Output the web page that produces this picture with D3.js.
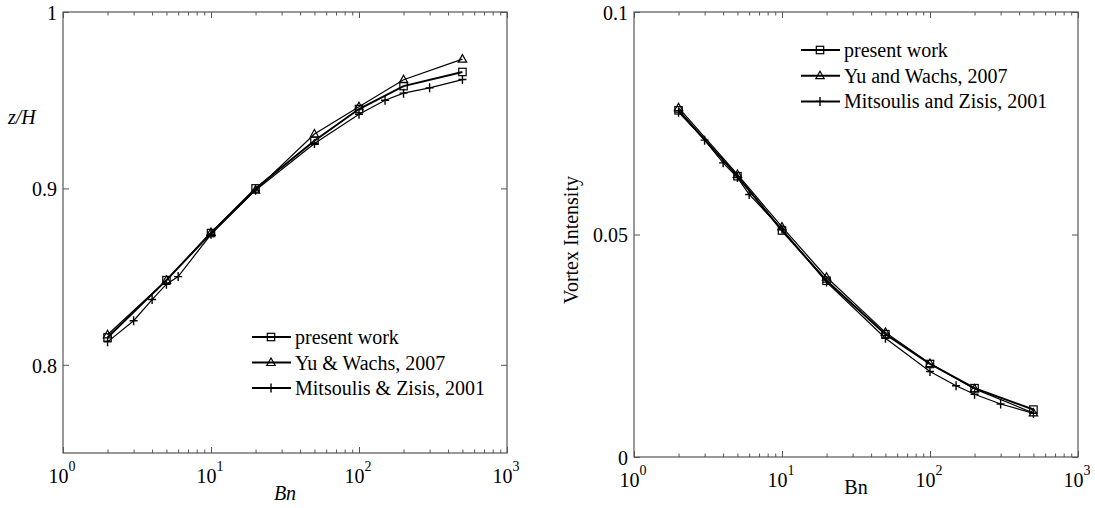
<!DOCTYPE html>
<html>
<head>
<meta charset="utf-8">
<script src="https://cdn.jsdelivr.net/npm/d3@7"></script>
<style>
body { margin: 0; background: #fff; }
</style>
</head>
<body>
<div id="divplot"></div>
<script>
// Bn sample points
const bnMain = [2, 5, 10, 20, 50, 100, 200, 500]
const bnMitsoulis = [2, 3, 4, 5, 6, 10, 20, 50, 100, 150, 200, 300, 500]

// left panel: z/H
const zhPresent = [0.8155, 0.848, 0.8747, 0.900, 0.927, 0.945, 0.958, 0.966]
const zhYu = [0.817, 0.848, 0.875, 0.899, 0.9308, 0.9463, 0.9616, 0.9733]
const zhMitsoulis = [0.813, 0.825, 0.837, 0.8457, 0.850, 0.874, 0.899, 0.9255, 0.942, 0.950, 0.954, 0.957, 0.9617]

// right panel: vortex intensity
const viPresent = [0.0779, 0.0631, 0.0509, 0.0396, 0.0276, 0.0209, 0.01547, 0.01066]
const viYu = [0.0785, 0.0635, 0.0517, 0.0404, 0.028, 0.021, 0.0153, 0.0099]
const viMitsoulis = [0.0775, 0.0712, 0.0661, 0.0628, 0.059, 0.0512, 0.0393, 0.0267, 0.0192, 0.016, 0.0141, 0.0119, 0.0098]

const xDecades = [1, 10, 100, 1000]
const zhTicks = [0.8, 0.9, 1]
const viTicks = [0, 0.05, 0.1]

const legendLeft = ['present work', 'Yu & Wachs, 2007', 'Mitsoulis & Zisis, 2001']
const legendRight = ['present work', 'Yu and Wachs, 2007', 'Mitsoulis and Zisis, 2001']

const FONT = '"Liberation Serif", "Times New Roman", serif'
const AXIS = '#555'

const svg = d3.select('#divplot')
	.append('svg')
	.attr('width', 1095)
	.attr('height', 508)
	.style('font-family', FONT)

const minorTicks = []
for (let d = 1; d < 1000; d *= 10) {
	for (let k = 2; k <= 9; k++) minorTicks.push(d * k)
}

const marker = (g, type, x, y) => {
	if (type == 'square') {
		g.append('rect').attr('x', x - 3.7).attr('y', y - 3.7).attr('width', 7.4).attr('height', 7.4)
			.attr('fill', 'none').attr('stroke', '#000').attr('stroke-width', 1.2)
	} else if (type == 'triangle') {
		g.append('path').attr('d', `M${x},${y - 4.5}L${x + 4.2},${y + 3}L${x - 4.2},${y + 3}Z`)
			.attr('fill', 'none').attr('stroke', '#000').attr('stroke-width', 1.2)
	} else {
		g.append('path').attr('d', `M${x - 4},${y}H${x + 4}M${x},${y - 4.5}V${y + 4.5}`)
			.attr('stroke', '#000').attr('stroke-width', 1.4)
	}
}

const txt = (g) => g.append('text').style('font-family', FONT).attr('fill', '#000')

const panel = (opt) => {
	const { left, right, top, bottom } = opt
	const x = d3.scaleLog().domain([1, 1000]).range([left, right])
	const y = d3.scaleLinear().domain(opt.yDomain).range([bottom, top])
	const g = svg.append('g')

	// frame
	g.append('rect').attr('x', left).attr('y', top).attr('width', right - left).attr('height', bottom - top)
		.attr('fill', 'none').attr('stroke', AXIS).attr('stroke-width', 1.2)

	// x ticks, inward, bottom and top
	const tickRow = (axisFn, ty, values, size) => {
		g.append('g').attr('transform', `translate(0,${ty})`)
			.call(axisFn(x).tickValues(values).tickSize(-size).tickFormat(''))
			.call(a => a.select('.domain').remove())
			.call(a => a.selectAll('.tick line').attr('stroke', AXIS))
	}
	tickRow(d3.axisBottom, bottom, xDecades, 6)
	tickRow(d3.axisTop, top, xDecades, 6)
	tickRow(d3.axisBottom, bottom, minorTicks, 3.5)
	tickRow(d3.axisTop, top, minorTicks, 3.5)

	xDecades.forEach(v => {
		const t = txt(g).attr('x', x(v) - 1).attr('y', bottom + 30)
			.attr('text-anchor', 'middle').style('font-size', '20px')
		t.append('tspan').text('10')
		t.append('tspan').attr('dy', -12).style('font-size', '14px').text(Math.round(Math.log10(v)))
	})

	// y ticks both sides
	g.append('g').attr('transform', `translate(${left},0)`)
		.call(d3.axisLeft(y).tickValues(opt.yTicks).tickSize(-6).tickPadding(6).tickFormat(d => d == 0 ? '0' : String(d)))
		.call(a => a.select('.domain').remove())
		.call(a => a.selectAll('.tick line').attr('stroke', AXIS))
		.call(a => a.selectAll('text').attr('dy', '0.36em').attr('fill', '#000')
			.style('font-size', '20px').style('font-family', FONT))
	g.append('g').attr('transform', `translate(${right},0)`)
		.call(d3.axisRight(y).tickValues(opt.yTicks).tickSize(-6).tickFormat(''))
		.call(a => a.select('.domain').remove())
		.call(a => a.selectAll('.tick line').attr('stroke', AXIS))

	// axis titles
	txt(g).attr('x', (left + right) / 2).attr('y', opt.xLabelY)
		.attr('text-anchor', 'middle').style('font-size', '20px').style('font-style', opt.italic ? 'italic' : 'normal')
		.text('Bn')
	if (opt.yRotate) {
		txt(g).attr('transform', `translate(${opt.yLabelX},${opt.yLabelY}) rotate(-90)`)
			.attr('text-anchor', 'middle').style('font-size', '20px')
			.text(opt.yLabel)
	} else {
		txt(g).attr('x', opt.yLabelX).attr('y', opt.yLabelY)
			.style('font-size', '20px').style('font-style', 'italic')
			.text(opt.yLabel)
	}

	const line = d3.line().x(d => x(d[0])).y(d => y(d[1]))
	const series = [
		{ xs: bnMain, ys: opt.present, type: 'square', w: 2 },
		{ xs: bnMain, ys: opt.yu, type: 'triangle', w: 1.2 },
		{ xs: bnMitsoulis, ys: opt.mits, type: 'plus', w: 1.2 }
	]
	series.forEach(s => {
		const pts = s.xs.map((v, i) => [v, s.ys[i]])
		g.append('path').datum(pts).attr('d', line)
			.attr('fill', 'none').attr('stroke', '#000').attr('stroke-width', s.w)
		pts.forEach(p => marker(g, s.type, x(p[0]), y(p[1])))
	})

	// legend
	opt.legend.forEach((name, i) => {
		const ly = opt.legendY + i * opt.legendStep
		g.append('line').attr('x1', opt.legendX).attr('x2', opt.legendX + 39)
			.attr('y1', ly).attr('y2', ly).attr('stroke', '#000').attr('stroke-width', 2)
		marker(g, series[i].type, opt.legendX + 19, ly)
		txt(g).attr('x', opt.legendX + 43).attr('y', ly + 7)
			.style('font-size', '20px').text(name)
	})
}

panel({
	left: 63, right: 507, top: 12, bottom: 453,
	yDomain: [0.75, 1], yTicks: zhTicks,
	present: zhPresent, yu: zhYu, mits: zhMitsoulis,
	yLabel: 'z/H', yRotate: false, italic: true, yLabelX: 8, yLabelY: 124, xLabelY: 500,
	legend: legendLeft, legendX: 252, legendY: 337, legendStep: 25.5
})

panel({
	left: 634, right: 1078, top: 12, bottom: 457,
	yDomain: [0, 0.1], yTicks: viTicks,
	present: viPresent, yu: viYu, mits: viMitsoulis,
	yLabel: 'Vortex Intensity', yRotate: true, italic: false, yLabelX: 578, yLabelY: 240, xLabelY: 494,
	legend: legendRight, legendX: 801, legendY: 50, legendStep: 25.7
})
</script>
</body>
</html>
